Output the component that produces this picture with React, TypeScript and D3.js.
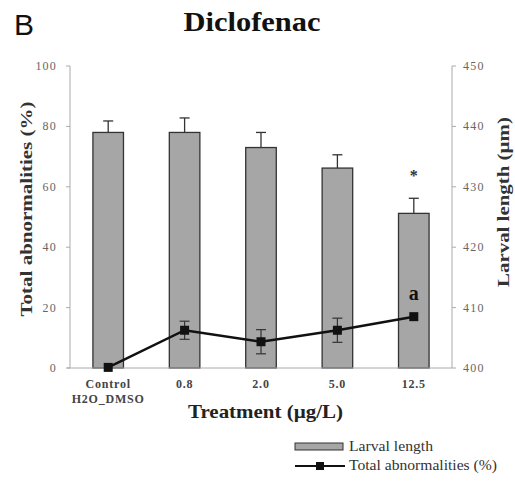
import React from "react";
import * as d3 from "d3";

const categories = ["Control|H2O_DMSO", "0.8", "2.0", "5.0", "12.5"];
const larvalLength = [439.0, 439.0, 436.5, 433.1, 425.6];
const larvalLengthErr = [1.9, 2.4, 2.5, 2.2, 2.5];
const abnormalities = [0.2, 12.5, 8.7, 12.5, 17.0];
const abnormalitiesErr = [0, 3.0, 4.0, 4.0, 0];
const leftTicks = [0, 20, 40, 60, 80, 100];
const rightTicks = [400, 410, 420, 430, 440, 450];

const W = 515, H = 484;
const left = 70, right = 452, top = 66, bottom = 368;
const serif = "'Liberation Serif', 'Times New Roman', serif";
const axisColor = "#aaa";

export default function App() {
  const x = d3.scaleBand<string>().domain(categories).range([left, right]).paddingInner(0.6).paddingOuter(0.3);
  const yL = d3.scaleLinear().domain([0, 100]).range([bottom, top]);
  const yR = d3.scaleLinear().domain([400, 450]).range([bottom, top]);
  const cx = (c: string) => (x(c) as number) + x.bandwidth() / 2;
  const line = d3.line<number>().x((_, i) => cx(categories[i])).y((d) => yL(d));

  return (
    <svg width={W} height={H} style={{ position: "absolute", left: 0, top: 0, background: "#fff" }}>
      <text x={14} y={35} fontFamily="'Liberation Sans', Arial, sans-serif" fontSize={30} fill="#111">B</text>
      <text x={252} y={31} textAnchor="middle" fontFamily={serif} fontWeight="bold" fontSize={27}
        textLength={137} lengthAdjust="spacingAndGlyphs" fill="#111">Diclofenac</text>

      {/* bars */}
      {categories.map((c, i) => (
        <g key={c}>
          <rect x={x(c)} y={yR(larvalLength[i])} width={x.bandwidth()} height={bottom - yR(larvalLength[i])}
            fill="#a6a6a6" stroke="#333" strokeWidth={1.3} />
          <line x1={cx(c)} x2={cx(c)} y1={yR(larvalLength[i])} y2={yR(larvalLength[i] + larvalLengthErr[i])} stroke="#333" strokeWidth={1.3} />
          <line x1={cx(c) - 5} x2={cx(c) + 5} y1={yR(larvalLength[i] + larvalLengthErr[i])} y2={yR(larvalLength[i] + larvalLengthErr[i])} stroke="#333" strokeWidth={1.3} />
        </g>
      ))}

      {/* axes */}
      <line x1={left} x2={left} y1={top} y2={bottom} stroke={axisColor} />
      <line x1={right} x2={right} y1={top} y2={bottom} stroke={axisColor} />
      <line x1={left - 3} x2={right} y1={bottom} y2={bottom} stroke={axisColor} />
      {leftTicks.map((t) => (
        <g key={"l" + t}>
          <line x1={left - 4} x2={left} y1={yL(t)} y2={yL(t)} stroke={axisColor} />
          <text x={57} y={yL(t) + 4} textAnchor="end" fontFamily={serif} fontSize={12} letterSpacing={1.2} fill="#666">{t}</text>
        </g>
      ))}
      {rightTicks.map((t) => (
        <g key={"r" + t}>
          <line x1={right} x2={right + 4} y1={yR(t)} y2={yR(t)} stroke={axisColor} />
          <text x={463} y={yR(t) + 4} textAnchor="start" fontFamily={serif} fontSize={12} letterSpacing={1.2} fill="#666">{t}</text>
        </g>
      ))}
      {categories.map((c) => {
        const parts = c.split("|");
        return (
          <text key={"x" + c} x={cx(c)} y={388} textAnchor="middle" fontFamily={serif} fontWeight="bold" fontSize={12} letterSpacing={0.8} fill="#444">
            {parts.map((p, j) => (
              <tspan key={j} x={cx(c)} dy={j === 0 ? 0 : 15}>{p}</tspan>
            ))}
          </text>
        );
      })}
      <text x={265.5} y={418} textAnchor="middle" fontFamily={serif} fontWeight="bold" fontSize={19}
        textLength={155} lengthAdjust="spacingAndGlyphs" fill="#222">Treatment (µg/L)</text>
      <text transform={`translate(32,209) rotate(-90)`} textAnchor="middle" fontFamily={serif} fontWeight="bold" fontSize={17}
        textLength={215} lengthAdjust="spacingAndGlyphs" fill="#333">Total abnormalities (%)</text>
      <text transform={`translate(509,202) rotate(-90)`} textAnchor="middle" fontFamily={serif} fontWeight="bold" fontSize={17}
        textLength={170} lengthAdjust="spacingAndGlyphs" fill="#333">Larval length (µm)</text>

      {/* line series */}
      <path d={line(abnormalities) || ""} fill="none" stroke="#111" strokeWidth={2.5} />
      {categories.map((c, i) => (
        <g key={"p" + c}>
          {abnormalitiesErr[i] > 0 && (
            <g stroke="#333" strokeWidth={1.2}>
              <line x1={cx(c)} x2={cx(c)} y1={yL(abnormalities[i] - abnormalitiesErr[i])} y2={yL(abnormalities[i] + abnormalitiesErr[i])} />
              <line x1={cx(c) - 5} x2={cx(c) + 5} y1={yL(abnormalities[i] - abnormalitiesErr[i])} y2={yL(abnormalities[i] - abnormalitiesErr[i])} />
              <line x1={cx(c) - 5} x2={cx(c) + 5} y1={yL(abnormalities[i] + abnormalitiesErr[i])} y2={yL(abnormalities[i] + abnormalitiesErr[i])} />
            </g>
          )}
          <rect x={cx(c) - 4.5} y={yL(abnormalities[i]) - 4.5} width={9} height={9} fill="#111" />
        </g>
      ))}

      {/* annotations */}
      <text x={cx(categories[4])} y={181} textAnchor="middle" fontFamily={serif} fontWeight="bold" fontSize={16} fill="#333">*</text>
      <text x={cx(categories[4])} y={300} textAnchor="middle" fontFamily={serif} fontWeight="bold" fontSize={20} fill="#111">a</text>

      {/* legend */}
      <rect x={295} y={443} width={48} height={7} fill="#a6a6a6" stroke="#333" strokeWidth={1} />
      <text x={349} y={451} fontFamily={serif} fontSize={14} textLength={84} lengthAdjust="spacingAndGlyphs" fill="#333">Larval length</text>
      <line x1={295} x2={345} y1={466} y2={466} stroke="#111" strokeWidth={2.2} />
      <rect x={316} y={462} width={8} height={8} fill="#111" />
      <text x={349} y={470} fontFamily={serif} fontSize={14} textLength={148} lengthAdjust="spacingAndGlyphs" fill="#333">Total abnormalities (%)</text>
    </svg>
  );
}
